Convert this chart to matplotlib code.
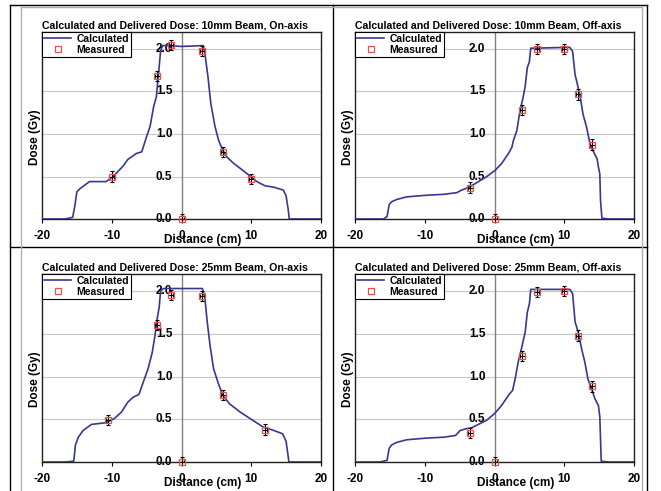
"""
Calculated vs. delivered dose profiles, 10mm / 25mm beams, on- and off-axis.
2x2 grid of Excel-style charts.
"""
import matplotlib
matplotlib.use("Agg")
import matplotlib.pyplot as plt
from matplotlib.lines import Line2D

plt.rcParams["font.family"] = ["Liberation Sans", "DejaVu Sans"]
plt.rcParams["font.weight"] = "bold"

# ---------------------------------------------------------------------------
# Data
# ---------------------------------------------------------------------------
on10_calc_x = [-20, -16.7, -15.6, -15.3, -15.0, -14.5, -13.2, -10.8, -9.8, -8.4,
               -7.7, -6.5, -5.7, -5.0, -4.5, -4.0, -3.6, -3.35, -3.2, -3.0,
               -2.7, -1.7, 0.0, 3.1, 3.35, 3.8, 4.2, 4.8, 5.3, 5.9, 6.5, 7.4,
               9.3, 10.8, 12.0, 13.2, 14.6, 15.0, 15.3, 15.45, 20]
on10_calc_y = [0, 0, 0.02, 0.15, 0.32, 0.36, 0.44, 0.44, 0.50, 0.62,
               0.70, 0.77, 0.79, 0.97, 1.09, 1.32, 1.44, 1.67, 1.79, 1.98,
               2.04, 2.04, 2.03, 2.04, 1.95, 1.67, 1.36, 1.09, 0.93, 0.81, 0.73, 0.66,
               0.54, 0.44, 0.39, 0.375, 0.34, 0.27, 0.11, 0, 0]
on10_meas_x = [-10, -3.45, -1.5, 0, 3.0, 6.0, 10.0]
on10_meas_y = [0.50, 1.68, 2.05, 0.0, 1.98, 0.785, 0.47]

off10_calc_x = [-20, -15.9, -15.4, -15.1, -14.7, -14.0, -12.6, -9.7, -7.3, -5.4,
                -4.7, -3.5, -2.3, -1.1, 0.05, 1.0, 2.0, 2.5, 2.7, 3.2, 3.65,
                4.1, 4.4, 4.7, 5.0, 5.2, 6.0, 10.8, 11.2, 11.55, 11.9, 12.3,
                12.7, 13.2, 13.7, 14.2, 14.7, 14.9, 15.1, 15.2, 15.4, 16.3, 20]
off10_calc_y = [0, 0, 0.03, 0.17, 0.205, 0.23, 0.26, 0.28, 0.29, 0.31,
                0.34, 0.38, 0.44, 0.50, 0.57, 0.65, 0.77, 0.845, 0.92, 1.04, 1.27,
                1.43, 1.56, 1.78, 1.85, 2.01, 2.01, 2.02, 1.97, 1.70, 1.58, 1.43,
                1.23, 1.08, 0.88, 0.79, 0.71, 0.61, 0.53, 0.22, 0.01, 0, 0]
off10_meas_x = [-3.46, 0, 4.0, 6.05, 10.0, 12.0, 14.0]
off10_meas_y = [0.37, 0.0, 1.28, 2.0, 2.0, 1.465, 0.876]

on25_calc_x = [-20, -16.7, -15.45, -15.2, -14.8, -14.1, -12.9, -10.8, -9.6, -8.6,
               -7.7, -6.9, -6.1, -5.5, -4.8, -4.2, -3.8, -3.5, -3.2, -3.0,
               -2.6, 0.0, 3.0, 3.35, 3.7, 4.1, 4.6, 5.3, 5.9, 6.9, 8.4, 9.8,
               11.7, 13.2, 14.5, 15.0, 15.2, 15.4, 20]
on25_calc_y = [0, 0, 0.01, 0.20, 0.29, 0.37, 0.44, 0.46, 0.51, 0.585,
               0.70, 0.76, 0.79, 0.93, 1.09, 1.28, 1.48, 1.67, 1.81, 2.0,
               2.03, 2.03, 2.03, 1.92, 1.63, 1.36, 1.09, 0.915, 0.78, 0.68, 0.585, 0.51,
               0.41, 0.37, 0.33, 0.24, 0.12, 0, 0]
on25_meas_x = [-10.5, -3.5, -1.53, 0, 2.97, 5.98, 11.96]
on25_meas_y = [0.49, 1.60, 1.95, 0.0, 1.94, 0.78, 0.38]

off25_calc_x = [-20, -16.4, -15.4, -15.1, -14.75, -14.0, -12.6, -9.7, -7.3, -5.6,
                -4.9, -4.0, -3.3, -2.3, -1.1, 0.05, 1.0, 2.0, 2.6, 2.95, 3.4,
                3.9, 4.4, 4.7, 5.0, 5.2, 10.8, 11.2, 11.55, 12.0, 12.5, 12.95,
                13.4, 13.9, 14.4, 14.9, 15.1, 15.3, 16.3, 20]
off25_calc_y = [0, 0, 0.02, 0.16, 0.20, 0.23, 0.26, 0.28, 0.29, 0.31,
                0.37, 0.39, 0.40, 0.44, 0.49, 0.57, 0.66, 0.78, 0.84, 0.97, 1.17,
                1.34, 1.52, 1.75, 1.85, 2.02, 2.02, 1.97, 1.64, 1.52, 1.32, 1.17,
                0.97, 0.86, 0.74, 0.66, 0.53, 0.01, 0, 0]
off25_meas_x = [-3.45, 0, 4.0, 6.05, 10.0, 12.0, 14.0]
off25_meas_y = [0.34, 0.0, 1.24, 1.99, 2.0, 1.48, 0.885]

titles = [
    "Calculated and Delivered Dose: 10mm Beam, On-axis",
    "Calculated and Delivered Dose: 10mm Beam, Off-axis",
    "Calculated and Delivered Dose: 25mm Beam, On-axis",
    "Calculated and Delivered Dose: 25mm Beam, Off-axis",
]
panels = [
    (on10_calc_x, on10_calc_y, on10_meas_x, on10_meas_y),
    (off10_calc_x, off10_calc_y, off10_meas_x, off10_meas_y),
    (on25_calc_x, on25_calc_y, on25_meas_x, on25_meas_y),
    (off25_calc_x, off25_calc_y, off25_meas_x, off25_meas_y),
]
x_ticks = [-20, -10, 0, 10, 20]
y_ticks = [0.0, 0.5, 1.0, 1.5, 2.0]
y_err = 0.06
x_err = 0.35

LINE_COLOR = "#38388f"
MARK_COLOR = "#e0544c"

# ---------------------------------------------------------------------------
# Figure layout
# ---------------------------------------------------------------------------
W, H = 661, 491
fig = plt.figure(figsize=(W / 100, H / 100), dpi=100)
fig.patch.set_facecolor("white")

rects = [
    [42 / W, 1 - 219 / H, 279 / W, 187 / H],
    [355 / W, 1 - 219 / H, 279 / W, 187 / H],
    [42 / W, 1 - 462 / H, 279 / W, 188 / H],
    [355 / W, 1 - 462 / H, 279 / W, 188 / H],
]


def fig_line(x0, y0, x1, y1, color="black", lw=1.0):
    fig.add_artist(Line2D([x0 / W, x1 / W], [1 - y0 / H, 1 - y1 / H],
                          transform=fig.transFigure, color=color, lw=lw))


# outer frame + dividers
fig_line(10, 5, 10, 491)
fig_line(647, 5, 647, 491)
fig_line(10, 5, 647, 5)
fig_line(333, 5, 333, 491)
fig_line(10, 247, 647, 247)
# chart-area borders (light gray)
fig_line(21, 7, 21, 491, color="#b0b0b0")
fig_line(642, 7, 642, 491, color="#b0b0b0")
fig_line(21, 7, 642, 7, color="#b0b0b0")

for rect, title, (cx, cy, mx, my) in zip(rects, titles, panels):
    ax = fig.add_axes(rect)
    ax.set_xlim(-20, 20)
    ax.set_ylim(0, 2.2)

    ax.set_yticks(y_ticks)
    ax.set_yticklabels([])
    ax.tick_params(axis="y", length=0)
    ax.yaxis.grid(True, color="#c8c8c8", lw=0.8)
    ax.set_axisbelow(True)
    ax.axvline(0, color="#808080", lw=1.0, zorder=1)
    for v in y_ticks:
        ax.text(-1.3, v, f"{v:.1f}", ha="right", va="center",
                fontsize=8.5, fontweight="bold", zorder=2)

    ax.set_xticks(x_ticks)
    ax.set_xticklabels([str(t) for t in x_ticks], fontsize=8.5, fontweight="bold")
    ax.tick_params(axis="x", direction="out", length=3, pad=5, width=0.8)

    for sp in ax.spines.values():
        sp.set_color("#202020")
        sp.set_linewidth(1.0)

    ax.plot(cx, cy, color=LINE_COLOR, lw=1.2, zorder=3)
    ax.errorbar(mx, my, yerr=y_err, xerr=x_err, fmt="none", ecolor="black",
                elinewidth=0.8, capsize=1.5, capthick=0.8, zorder=4)
    ax.plot(mx, my, "s", ms=4.5, mfc="none", mec=MARK_COLOR, mew=0.9,
            zorder=5, clip_on=False)

    ax.text(0.477, 1.037, title, transform=ax.transAxes, ha="center",
            va="center", fontsize=7.6, fontweight="bold")
    ax.text(-0.025, 0.44, "Dose (Gy)", transform=ax.transAxes, rotation=90,
            ha="center", va="center", fontsize=8.5, fontweight="bold")
    ax.text(0.575, -0.11, "Distance (cm)", transform=ax.transAxes,
            ha="center", va="center", fontsize=8.5, fontweight="bold")

    handles = [
        Line2D([], [], color=LINE_COLOR, lw=1.2),
        Line2D([], [], ls="none", marker="s", ms=4.5, mfc="none",
               mec=MARK_COLOR, mew=0.9),
    ]
    leg = ax.legend(handles, ["Calculated", "Measured"], loc="upper left",
                    bbox_to_anchor=(0, 1), borderaxespad=0, fancybox=False,
                    framealpha=1, edgecolor="black",
                    handlelength=2.6, handletextpad=0.5, borderpad=0.2,
                    labelspacing=0.05, prop={"weight": "bold", "size": 7.5})
    leg.get_frame().set_linewidth(0.8)
    leg.set_zorder(6)

fig.savefig("out.png", dpi=100)
